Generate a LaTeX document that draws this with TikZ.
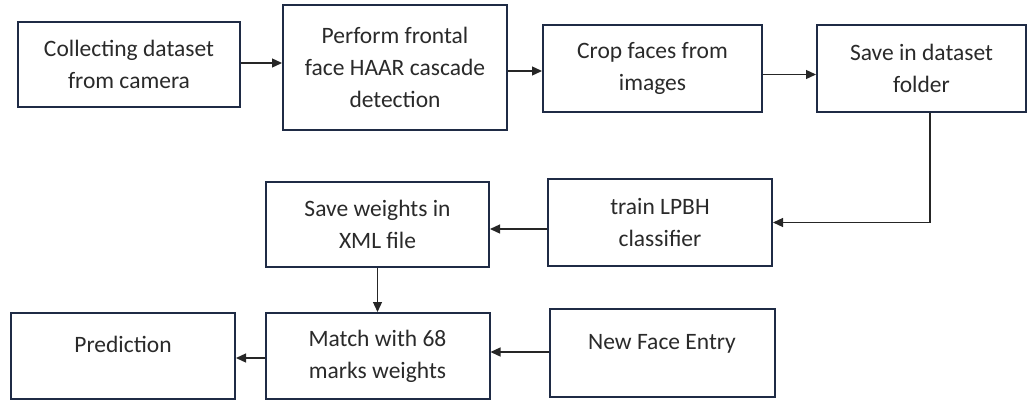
\documentclass[tikz,border=0pt]{standalone}
\usepackage{fontspec}
\setmainfont{Carlito}
\usetikzlibrary{arrows.meta}
\definecolor{boxline}{HTML}{1F2B45}
\definecolor{txt}{HTML}{2A2A2A}
\tikzset{
  stepbox/.style={draw=boxline, line width=2pt, fill=white, align=center,
    text=txt, font=\fontsize{23.5}{32}\selectfont, inner sep=2pt},
  arr/.style={draw=black!85, line width=1.3pt, -{Triangle[length=10pt,width=9pt]}}
}
\begin{document}
\begin{tikzpicture}[x=1pt,y=-1pt]
\useasboundingbox (0,0) rectangle (1032,401);
\node[stepbox, minimum width=222pt, minimum height=85pt] (b1) at (129,64.5) {Collecting dataset\\from camera};
\node[stepbox, minimum width=224pt, minimum height=125pt] (b2) at (395,67.5) {Perform frontal\\face HAAR cascade\\detection};
\node[stepbox, minimum width=219pt, minimum height=87pt] (b3) at (652.5,68.5) {Crop faces from\\images};
\node[stepbox, minimum width=209pt, minimum height=87pt] (b4) at (921.5,68.5) {Save in dataset\\folder};
\node[stepbox, minimum width=224pt, minimum height=87pt] (b5) at (660,222.5) {train LPBH\\classifier};
\node[stepbox, minimum width=223pt, minimum height=85pt] (b6) at (377.5,224.5) {Save weights in\\XML file};
\node[stepbox, minimum width=224pt, minimum height=86pt, text height=17pt, text depth=24pt] (b7) at (123,356) {Prediction};
\node[stepbox, minimum width=224pt, minimum height=86pt] (b8) at (377.5,356) {Match with 68\\marks weights};
\node[stepbox, minimum width=225pt, minimum height=88pt, text height=17pt, text depth=24pt] (b9) at (662,353) {New Face Entry};

\coordinate (s1) at ([yshift=1.5pt]b1.east);
\coordinate (s2) at ([yshift=-3.5pt]b2.east);
\coordinate (s3) at ([yshift=-6pt]b3.east);
\coordinate (s4) at ([xshift=8.5pt]b4.south);
\coordinate (s5) at ([yshift=-6.5pt]b5.west);
\coordinate (s9) at ([yshift=1pt]b9.west);
\coordinate (s8) at ([yshift=-2pt]b8.west);

\draw[arr] (s1) -- (s1 -| b2.west);
\draw[arr] (s2) -- (s2 -| b3.west);
\draw[arr] (s3) -- (s3 -| b4.west);
\draw[arr] (s4) |- (b5.east);
\draw[arr] (s5) -- (s5 -| b6.east);
\draw[arr] (b6.south) -- (b8.north);
\draw[arr] (s9) -- (s9 -| b8.east);
\draw[arr] (s8) -- (s8 -| b7.east);
\end{tikzpicture}
\end{document}
